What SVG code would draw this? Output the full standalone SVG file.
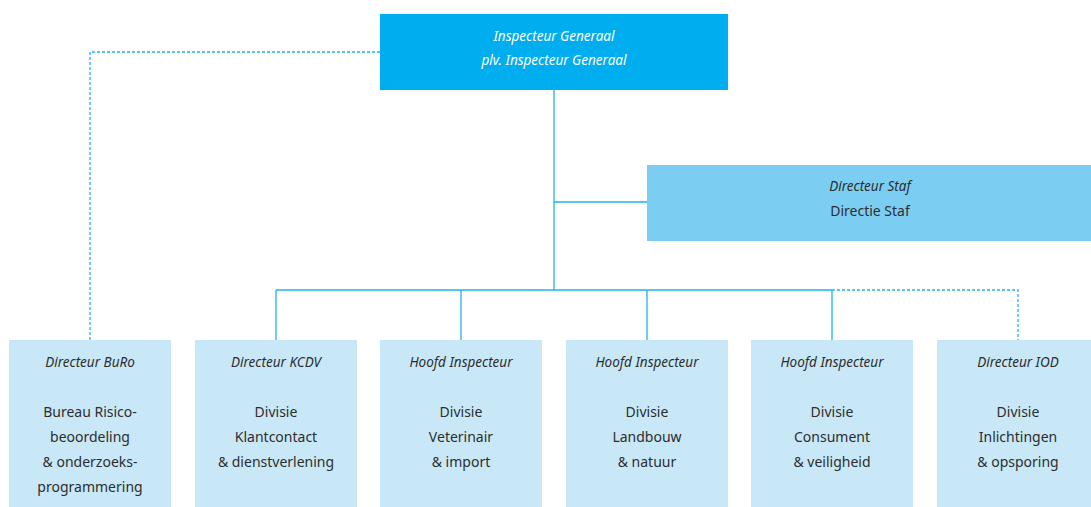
<svg xmlns="http://www.w3.org/2000/svg" width="1091" height="507" viewBox="0 0 1091 507">
<style>
.box{fill:#c9e8f7}
.t{font-family:"Noto Sans","Open Sans",sans-serif;font-size:14px;fill:#2d2d2d;text-anchor:middle}
.i{font-style:italic;font-size:13.5px}
.w{fill:#ffffff}
.ln{stroke:#1fb3ec;stroke-width:1.3;fill:none}
.dash{stroke-dasharray:3 2}
</style>
<rect width="1091" height="507" fill="#ffffff"/>
<g id="connectors">
<path class="ln" d="M554 90 V290 M554 202 H647 M276 290 H832 M276 290 V340 M461 290 V340 M647 290 V340 M832 290 V340"/>
<path class="ln dash" d="M380 52 H90 V340 M832 290 H1018 V340"/>
</g>
<g id="ig">
<rect x="380" y="14" width="348" height="76" fill="#00aeef"/>
<text class="t i w" x="554" y="41">Inspecteur Generaal</text>
<text class="t i w" x="554" y="65">plv. Inspecteur Generaal</text>
</g>
<g id="staf">
<rect x="647" y="165" width="444" height="76" fill="#7bcdf2"/>
<text class="t i" x="870" y="191">Directeur Staf</text>
<text class="t" x="870" y="216">Directie Staf</text>
</g>
<g id="buro">
<rect class="box" x="9" y="340" width="162" height="167"/>
<text class="t i" x="90" y="367">Directeur BuRo</text>
<text class="t" x="90" y="417">Bureau Risico-</text>
<text class="t" x="90" y="442">beoordeling</text>
<text class="t" x="90" y="467">&amp; onderzoeks-</text>
<text class="t" x="90" y="492">programmering</text>
</g>
<g id="kcdv">
<rect class="box" x="195" y="340" width="162" height="167"/>
<text class="t i" x="276" y="367">Directeur KCDV</text>
<text class="t" x="276" y="417">Divisie</text>
<text class="t" x="276" y="442">Klantcontact</text>
<text class="t" x="276" y="467">&amp; dienstverlening</text>
</g>
<g id="vet">
<rect class="box" x="380" y="340" width="162" height="167"/>
<text class="t i" x="461" y="367">Hoofd Inspecteur</text>
<text class="t" x="461" y="417">Divisie</text>
<text class="t" x="461" y="442">Veterinair</text>
<text class="t" x="461" y="467">&amp; import</text>
</g>
<g id="land">
<rect class="box" x="566" y="340" width="162" height="167"/>
<text class="t i" x="647" y="367">Hoofd Inspecteur</text>
<text class="t" x="647" y="417">Divisie</text>
<text class="t" x="647" y="442">Landbouw</text>
<text class="t" x="647" y="467">&amp; natuur</text>
</g>
<g id="cons">
<rect class="box" x="751" y="340" width="162" height="167"/>
<text class="t i" x="832" y="367">Hoofd Inspecteur</text>
<text class="t" x="832" y="417">Divisie</text>
<text class="t" x="832" y="442">Consument</text>
<text class="t" x="832" y="467">&amp; veiligheid</text>
</g>
<g id="iod">
<rect class="box" x="937" y="340" width="162" height="167"/>
<text class="t i" x="1018" y="367">Directeur IOD</text>
<text class="t" x="1018" y="417">Divisie</text>
<text class="t" x="1018" y="442">Inlichtingen</text>
<text class="t" x="1018" y="467">&amp; opsporing</text>
</g>
</svg>
